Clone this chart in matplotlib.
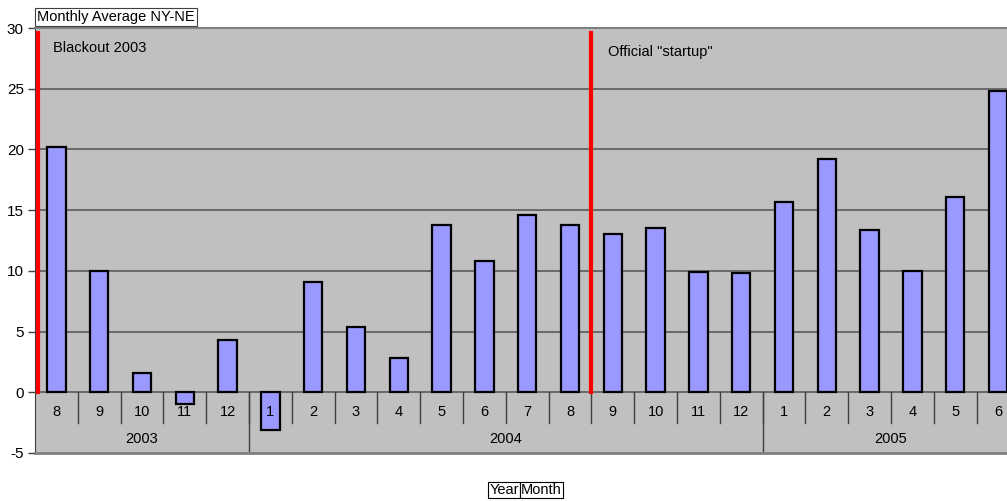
import numpy as np
import matplotlib.pyplot as plt

plt.rcParams['font.family'] = ['Liberation Sans', 'DejaVu Sans']
plt.rcParams['axes.unicode_minus'] = False

# data
months = ["8", "9", "10", "11", "12",
          "1", "2", "3", "4", "5", "6", "7", "8", "9", "10", "11", "12",
          "1", "2", "3", "4", "5", "6"]
values = [20.2, 10.0, 1.6, -1.0, 4.3,
          -3.1, 9.1, 5.4, 2.8, 13.8, 10.8, 14.6, 13.8, 13.0, 13.5, 9.9, 9.8,
          15.7, 19.2, 13.4, 10.0, 16.1, 24.8]
years = ["2003", "2004", "2005"]
year_counts = [5, 12, 6]
events = ["Blackout 2003", 'Official "startup"']
event_pos = [-0.42, 12.5]

fig = plt.figure(figsize=(10.07, 5.01), dpi=100)
ax = fig.add_axes([35 / 1007, 48 / 501, 972 / 1007, 425 / 501])
ax.set_facecolor("#C0C0C0")

x = np.arange(len(values))
ax.bar(x, values, width=0.43, color="#9999FF", edgecolor="black", linewidth=1.6, zorder=3)

ax.set_xlim(-0.5, -0.5 + 972 / 42.8)
ax.set_ylim(-5, 30)
ax.set_yticks(np.arange(-5, 31, 5))
ax.set_xticks([])
ax.tick_params(axis="y", length=5, width=1, color="#404040", labelsize=11, pad=3)

# grid lines
for g in range(5, 30, 5):
    ax.axhline(g, color="#5a5a5a", lw=1.2, zorder=1)
ax.axhline(0, color="#5a5a5a", lw=1.2, zorder=1)

ax.spines["right"].set_visible(False)
ax.spines["left"].set_color("#404040")
ax.spines["top"].set_color("#808080")
ax.spines["top"].set_linewidth(1.5)
ax.spines["bottom"].set_color("#808080")
ax.spines["bottom"].set_linewidth(2)

# month labels and separators
for i, m in enumerate(months):
    ax.text(i, -1.64, m, ha="center", va="center", fontsize=10.5, zorder=5)
    ax.plot([i + 0.5, i + 0.5], [0, -2.5], color="#404040", lw=1, zorder=2)

# year labels and separators
start = 0
for yname, n in zip(years, year_counts):
    ax.text(start + (n - 1) / 2, -3.86, yname, ha="center", va="center", fontsize=10.5, zorder=5)
    end = start + n
    if end < len(values):
        ax.plot([end - 0.5, end - 0.5], [0, -4.8], color="#404040", lw=1, zorder=2)
    start = end

# event lines
for pos in event_pos:
    ax.plot([pos, pos], [0, 29.6], color="#FF0000", lw=3, zorder=4)
ax.text(-0.08, 28.35, events[0], ha="left", va="center", fontsize=10.5)
ax.text(12.89, 28.0, events[1], ha="left", va="center", fontsize=10.5)

# title box
fig.text(37 / 1007, 1 - 17 / 501, "Monthly Average NY-NE", ha="left", va="center", fontsize=10.5,
         bbox=dict(boxstyle="square,pad=0.14", facecolor="white", edgecolor="#404040", lw=0.8))

# axis title boxes
fig.text(519 / 1007, 1 - 490 / 501, "Year", ha="right", va="center", fontsize=10.5,
         bbox=dict(boxstyle="square,pad=0.1", facecolor="white", edgecolor="black", lw=0.8))
fig.text(521 / 1007, 1 - 490 / 501, "Month", ha="left", va="center", fontsize=10.5,
         bbox=dict(boxstyle="square,pad=0.1", facecolor="white", edgecolor="black", lw=0.8))

fig.savefig("out.png", dpi=100)
